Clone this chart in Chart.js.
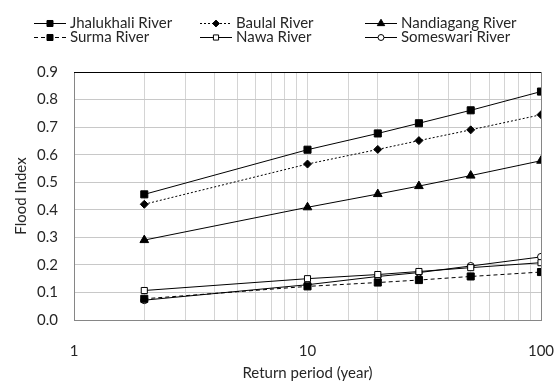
<!DOCTYPE html>
<html>
<head>
<meta charset="utf-8">
<script src="https://cdn.jsdelivr.net/npm/chart.js@4"></script>
<style>
  html, body { margin: 0; padding: 0; background: #fff; }
  #wrap { width: 555px; height: 382px; }
</style>
</head>
<body>
<div id="wrap"><canvas id="chart"></canvas></div>
<script>
const returnPeriods = [2, 10, 20, 30, 50, 100]
const xTickLabels = [1, 10, 100]

const jhalukhali = [0.456, 0.618, 0.677, 0.714, 0.761, 0.829]
const baulal     = [0.420, 0.566, 0.619, 0.651, 0.690, 0.745]
const nandiagang = [0.290, 0.409, 0.457, 0.486, 0.524, 0.578]
const surma      = [0.077, 0.122, 0.136, 0.145, 0.158, 0.174]
const nawa       = [0.107, 0.150, 0.165, 0.176, 0.190, 0.208]
const someswari  = [0.072, 0.128, 0.158, 0.172, 0.196, 0.229]

const FONT = 'Lato'
const TEXT = '#262626'

function series(label, values, style, dash, radius, fill) {
    return {
        label,
        data: returnPeriods.map((x, i) => ({ x, y: values[i] })),
        borderColor: '#000',
        borderWidth: 1,
        borderDash: dash,
        pointStyle: style,
        pointRadius: radius,
        pointBackgroundColor: fill,
        pointBorderColor: '#000',
        pointBorderWidth: 1,
        tension: 0
    }
}

const datasets = [
    series('Jhalukhali River', jhalukhali, 'rect', [], 5, '#000'),
    series('Baulal River', baulal, 'rectRot', [2, 2], 4, '#000'),
    series('Nandiagang River', nandiagang, 'triangle', [], 5, '#000'),
    series('Surma River', surma, 'rect', [4, 3], 5, '#000'),
    series('Nawa River', nawa, 'rect', [], 4.3, '#fff'),
    series('Someswari River', someswari, 'circle', [], 3.5, '#fff')
]

// legend: line + marker, 3 columns x 2 rows
const legendPlugin = {
    id: 'lineLegend',
    afterDraw(chart) {
        const ctx = chart.ctx
        const cols = [34, 200, 365]
        const rows = [23, 37]
        ctx.save()
        chart.data.datasets.forEach((ds, i) => {
            const x = cols[i % 3]
            const y = rows[Math.floor(i / 3)]
            ctx.strokeStyle = '#000'
            ctx.lineWidth = 1
            ctx.setLineDash(ds.borderDash)
            ctx.beginPath()
            ctx.moveTo(x, y + 0.5)
            ctx.lineTo(x + 32, y + 0.5)
            ctx.stroke()
            ctx.setLineDash([])
            ctx.fillStyle = ds.pointBackgroundColor
            Chart.helpers.drawPoint(ctx, {
                pointStyle: ds.pointStyle,
                radius: ds.pointRadius * 0.85,
                borderWidth: 1,
                rotation: 0
            }, x + 16, y + 0.5)
            ctx.fillStyle = TEXT
            ctx.font = '15px "' + FONT + '"'
            ctx.textBaseline = 'middle'
            ctx.fillText(ds.label, x + 36, y)
        })
        ctx.restore()
    }
}

// top and right edges of the plot frame
const framePlugin = {
    id: 'frame',
    beforeDatasetsDraw(chart) {
        const { ctx, chartArea: a } = chart
        ctx.save()
        ctx.lineWidth = 1
        ctx.strokeStyle = '#000'
        ctx.beginPath()
        ctx.moveTo(a.left, a.top + 0.5)
        ctx.lineTo(a.right, a.top + 0.5)
        ctx.stroke()
        ctx.strokeStyle = '#868686'
        ctx.beginPath()
        ctx.moveTo(a.right + 0.5, a.top)
        ctx.lineTo(a.right + 0.5, a.bottom)
        ctx.stroke()
        ctx.restore()
    }
}

new Chart('chart', {
    type: 'line',
    data: { datasets },
    options: {
        responsive: true,
        maintainAspectRatio: false,
        animation: false,
        layout: { padding: { top: 72, right: 14, left: 0, bottom: 0 } },
        plugins: {
            legend: { display: false },
            tooltip: { enabled: false }
        },
        scales: {
            x: {
                type: 'logarithmic',
                min: 1,
                max: 100,
                afterFit(scale) {
                    scale.height = 62
                    scale.paddingLeft = 0
                    scale.paddingRight = 0
                },
                grid: { color: '#d4d4d4', lineWidth: 1, drawTicks: false },
                border: { color: '#868686' },
                ticks: {
                    autoSkip: false,
                    maxRotation: 0,
                    padding: 22,
                    color: TEXT,
                    font: { family: FONT, size: 15 },
                    callback: v => xTickLabels.includes(v) ? String(v) : ''
                },
                title: {
                    display: true,
                    text: 'Return period (year)',
                    color: TEXT,
                    font: { family: FONT, size: 15 },
                    padding: { top: 4, bottom: 0 }
                }
            },
            y: {
                min: 0,
                max: 0.9,
                afterFit(scale) {
                    scale.width = 74
                    scale.paddingTop = 0
                    scale.paddingBottom = 0
                },
                grid: { color: '#c8c8c8', lineWidth: 1, drawTicks: false },
                border: { color: '#868686' },
                ticks: {
                    stepSize: 0.1,
                    padding: 16,
                    color: TEXT,
                    font: { family: FONT, size: 15 },
                    callback: v => v.toFixed(1)
                },
                title: {
                    display: true,
                    text: 'Flood Index',
                    color: TEXT,
                    font: { family: FONT, size: 15 },
                    padding: { top: 12, bottom: 4 }
                }
            }
        }
    },
    plugins: [legendPlugin, framePlugin]
})
</script>
</body>
</html>
